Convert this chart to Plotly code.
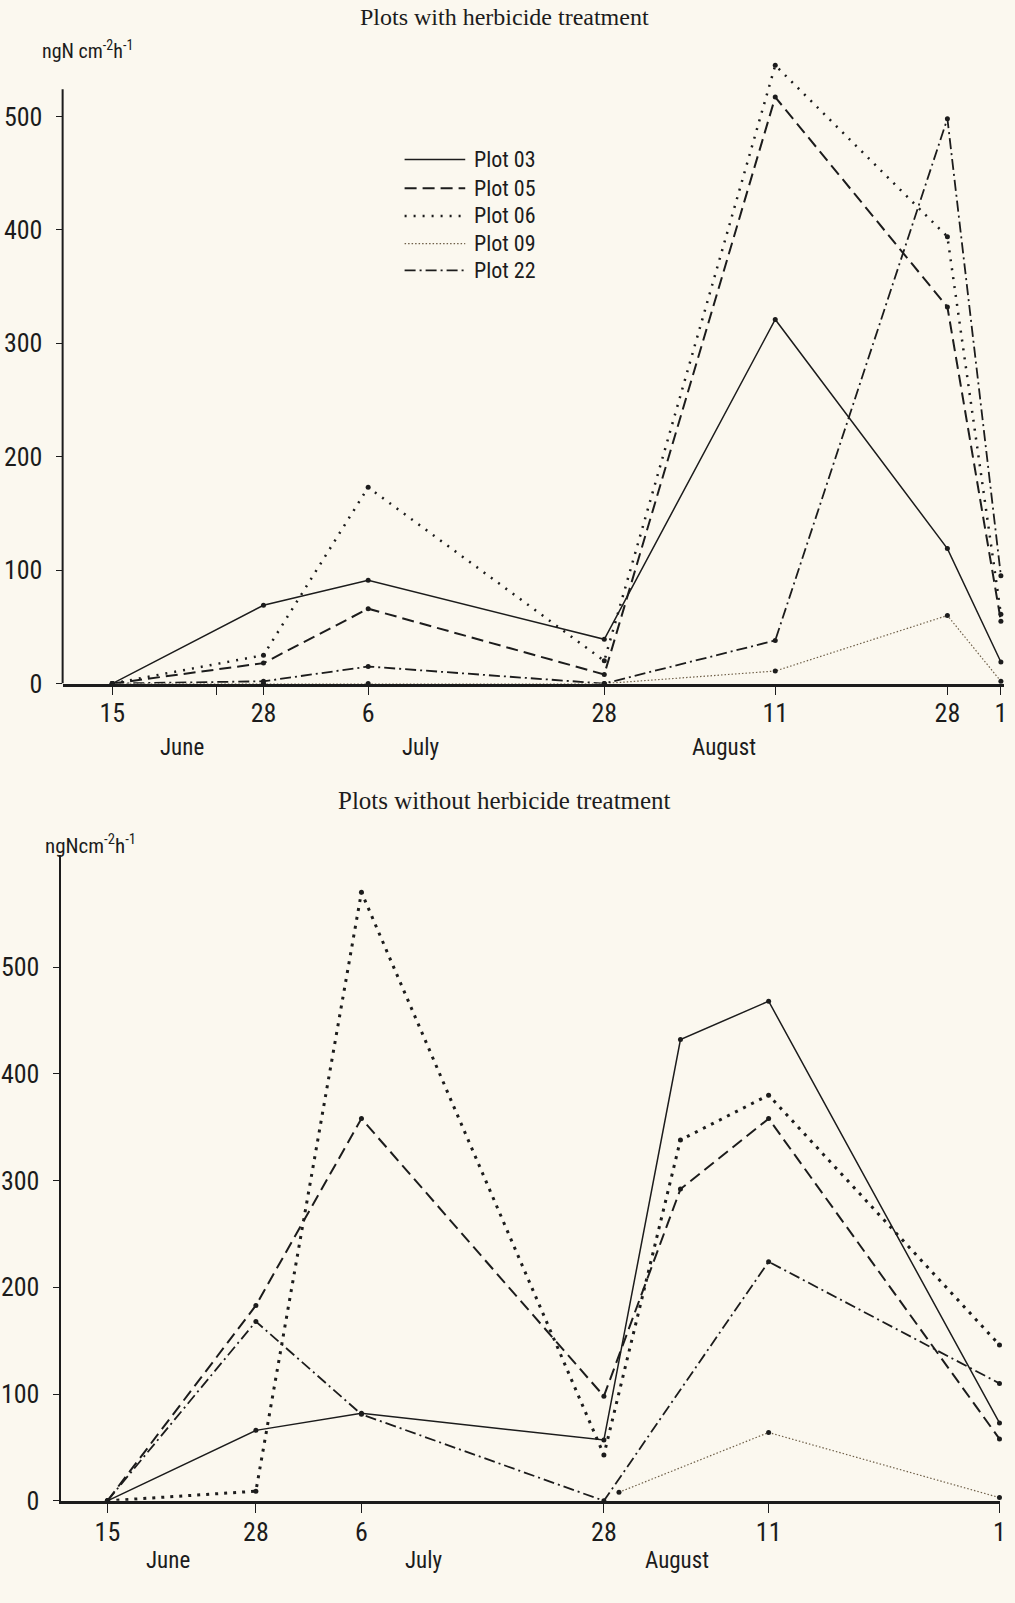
import plotly.graph_objects as go

# ---------------- data ----------------
series_names = ["Plot 03", "Plot 05", "Plot 06", "Plot 09", "Plot 22"]

# top panel: sampling dates (position on the drawn axis, days after 15 June)
top_dates = ["15 June", "28 June", "6 July", "28 July", "11 August", "28 August", "1 September"]
top_pos = [0, 13, 22, 42.3, 57, 71.8, 76.4]
p03_top = [0, 69, 91, 39, 321, 119, 19]
p05_top = [0, 18, 66, 8, 517, 332, 55]
p06_top = [0, 25, 173, 20, 545, 394, 61]
p09_top = [0, 0, 0, 0, 11, 60, 2]
p22_top = [0, 2, 15, 0, 38, 498, 95]

# bottom panel
bot_dates = ["15 June", "28 June", "6 July", "28 July", "4 August", "11 August", "1 September"]
bot_pos = [0, 12.8, 21.9, 42.8, 49.4, 57, 76.9]
p03_bot = [0, 66, 82, 57, 432, 468, 73]
p05_bot = [0, 183, 358, 98, 292, 358, 58]
p06_bot = [0, 9, 570, 43, 338, 380, 146]
p22_bot = [0, 168, 81, 0, None, 224, 110]
p09_bot_pos = [44.1, 57, 76.9]
p09_bot = [8, 64, 3]

top_tick_pos = [0, 9, 13, 22, 42.3, 57, 71.8, 76.4]
top_tick_text = ["15", "", "28", "6", "28", "11", "28", "1"]
bot_tick_pos = [0, 12.8, 21.9, 42.8, 57, 76.9]
bot_tick_text = ["15", "28", "6", "28", "11", "1"]
y_ticks = [0, 100, 200, 300, 400, 500]

month_names = ["June", "July", "August"]
top_month_pos = [6, 26.5, 52.6]
bot_month_pos = [5.2, 27.3, 49.1]

titles = ["Plots with herbicide treatment", "Plots without herbicide treatment"]
unit_label = "ngN cm<sup>-2</sup>h<sup>-1</sup>"

# ---------------- styles ----------------
BG = "#fbf8ef"
INK = "#1c1c1c"
COND = "Roboto Condensed, Liberation Sans Narrow, DejaVu Sans Condensed, Roboto, sans-serif"
SERIF = "Liberation Serif, Times New Roman, serif"

styles = {
    "Plot 03": dict(dash="solid", width=1.5, color=INK),
    "Plot 05": dict(dash="12px,6px", width=2, color=INK),
    "Plot 06": dict(dash="2px,7px", width=2.5, color=INK),
    "Plot 09": dict(dash="1.5px,2px", width=1.2, color="#6e5f48"),
    "Plot 22": dict(dash="11px,4px,2px,4px", width=1.8, color=INK),
}

fig = go.Figure()

top_vals = [p03_top, p05_top, p06_top, p09_top, p22_top]
for name, vals in zip(series_names, top_vals):
    st = styles[name]
    fig.add_trace(go.Scatter(
        x=top_pos, y=vals, name=name, mode="lines+markers",
        line=dict(color=st["color"], width=st["width"], dash=st["dash"]),
        marker=dict(size=5, color=INK), xaxis="x", yaxis="y",
        showlegend=False, cliponaxis=False))

bot_series = [
    ("Plot 03", bot_pos, p03_bot),
    ("Plot 05", bot_pos, p05_bot),
    ("Plot 06", bot_pos, p06_bot),
    ("Plot 09", p09_bot_pos, p09_bot),
    ("Plot 22", bot_pos, p22_bot),
]
for name, xs, vals in bot_series:
    st = dict(styles[name])
    if name == "Plot 06":
        st.update(width=3, dash="3px,6px")
    fig.add_trace(go.Scatter(
        x=xs, y=vals, name=name, mode="lines+markers", connectgaps=True,
        line=dict(color=st["color"], width=st["width"], dash=st["dash"]),
        marker=dict(size=5, color=INK), xaxis="x2", yaxis="y2",
        showlegend=False, cliponaxis=False))

W, H = 1015, 1603

def px_x(p):
    return p / W

def px_y(p):
    return 1 - p / H

axis_common = dict(showgrid=False, zeroline=False, showline=True, linecolor=INK,
                   ticks="outside", tickcolor=INK, tickfont=dict(family=COND, size=26, color=INK))

fig.update_layout(
    width=W, height=H, margin=dict(l=0, r=0, t=0, b=0),
    paper_bgcolor=BG, plot_bgcolor=BG, showlegend=False,
    xaxis=dict(axis_common, domain=[px_x(63), px_x(1010)], range=[-4.27, 76.67],
               tickvals=top_tick_pos, ticktext=top_tick_text, linewidth=2.5, ticklen=9,
               anchor="y", ticklabelstandoff=-4),
    yaxis=dict(axis_common, domain=[px_y(690), px_y(48.8)], range=[0, 560],
               tickvals=y_ticks, ticklen=6, showline=False, anchor="x",
               ticklabelstandoff=8),
    xaxis2=dict(axis_common, domain=[px_x(61), px_x(1006)], range=[-4.03, 76.95],
                tickvals=bot_tick_pos, ticktext=bot_tick_text, linewidth=2.5, ticklen=9,
                anchor="y2", ticklabelstandoff=-3),
    yaxis2=dict(axis_common, domain=[px_y(1515), px_y(863)], range=[0, 605],
                tickvals=y_ticks, ticklen=6, linewidth=2, anchor="x2",
                ticklabelstandoff=8),
)

# top y-axis line stops short of the top of the panel
fig.add_shape(type="line", xref="x domain", x0=0, x1=0, yref="y", y0=0, y1=524,
              line=dict(color=INK, width=2))

annotations = [
    dict(text=titles[0], x=0.5, y=px_y(17), xref="paper", yref="paper",
         xanchor="center", yanchor="middle", showarrow=False,
         font=dict(family=SERIF, size=24, color=INK)),
    dict(text=titles[1], x=0.5, y=px_y(808), xref="paper", yref="paper",
         xanchor="center", yanchor="middle", showarrow=False,
         font=dict(family=SERIF, size=25, color=INK)),
    dict(text=unit_label, x=px_x(88), y=px_y(50), xref="paper", yref="paper",
         xanchor="center", yanchor="middle", showarrow=False,
         font=dict(family=COND, size=20, color=INK)),
    dict(text=unit_label.replace(" ", ""), x=px_x(91), y=px_y(852), xref="paper", yref="paper",
         xanchor="center", yanchor="middle", showarrow=False,
         font=dict(family=COND, size=21, color=INK)),
]
for m, xp in zip(month_names, top_month_pos):
    annotations.append(dict(text=m, x=xp, y=px_y(755), xref="x", yref="paper",
                            xanchor="center", yanchor="middle", showarrow=False,
                            font=dict(family=COND, size=23, color=INK)))
for m, xp in zip(month_names, bot_month_pos):
    annotations.append(dict(text=m, x=xp, y=px_y(1575), xref="x2", yref="paper",
                            xanchor="center", yanchor="middle", showarrow=False,
                            font=dict(family=COND, size=23, color=INK)))

# key (legend) for the top panel, drawn as in the original figure
legend_rows = [161, 190, 218, 246, 273]
for name, row in zip(series_names, legend_rows):
    st = styles[name]
    fig.add_shape(type="line", xref="paper", yref="paper",
                  x0=px_x(407), x1=px_x(468), y0=px_y(row), y1=px_y(row),
                  line=dict(color=st["color"], width=st["width"], dash=st["dash"]))
    annotations.append(dict(text=name, x=px_x(475), y=px_y(row), xref="paper", yref="paper",
                            xanchor="left", yanchor="middle", showarrow=False,
                            font=dict(family=COND, size=22, color=INK)))

fig.update_layout(annotations=annotations)

fig.write_html("out.html")
